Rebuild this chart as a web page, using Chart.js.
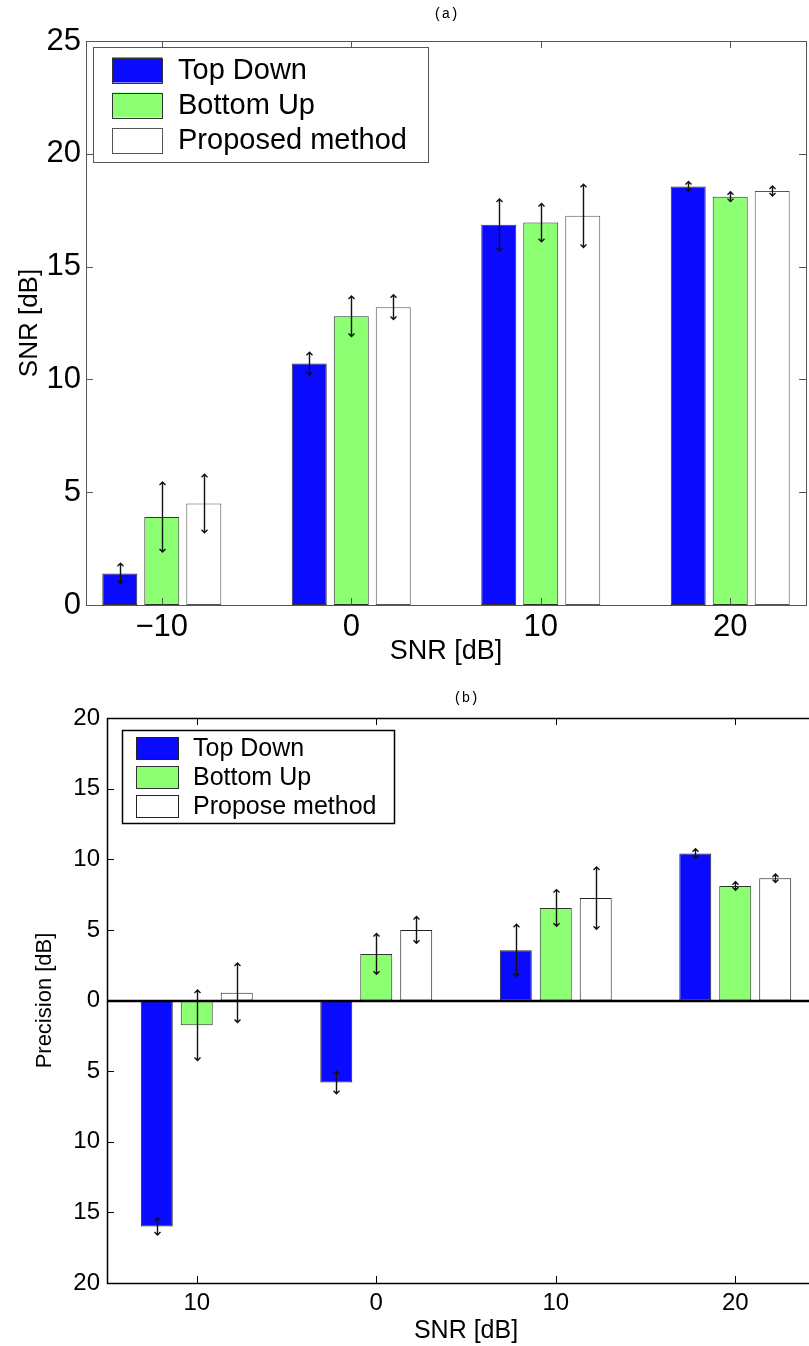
<!DOCTYPE html>
<html lang="en">
<head>
  <meta charset="UTF-8" />
  <title>SNR and Precision vs SNR</title>
  <script src="https://cdn.jsdelivr.net/npm/chart.js"></script>
  <style>
    html, body {
      margin: 0;
      padding: 0;
      background: #fff;
      overflow: hidden;
    }
    body {
      width: 809px;
      height: 1346px;
      position: relative;
    }
    #chartA { position: absolute; left: 0; top: 0; }
    #chartB { position: absolute; left: 0; top: 670px; }
  </style>
</head>
<body>
  <canvas id="chartA" width="809" height="670"></canvas>
  <canvas id="chartB" width="840" height="676"></canvas>

  <script>
    // categories (input SNR, dB)
    const snrLevels = [-10, 0, 10, 20];
    const snrTickLabelsA = ['\u221210', '0', '10', '20'];
    const snrTickLabelsB = ['10', '0', '10', '20'];

    // (a) output SNR [dB]
    const snrTopDown = [1.4, 10.7, 16.85, 18.55];
    const snrTopDownErr = [0.45, 0.5, 1.15, 0.22];
    const snrBottomUp = [3.9, 12.8, 16.95, 18.1];
    const snrBottomUpErr = [1.55, 0.9, 0.85, 0.22];
    const snrProposed = [4.5, 13.2, 17.25, 18.35];
    const snrProposedErr = [1.3, 0.55, 1.4, 0.22];
    const snrAxisTicks = [0, 5, 10, 15, 20, 25];

    // (b) precision [dB]
    const precTopDown = [-16.0, -5.8, 3.55, 10.4];
    const precTopDownErr = [0.6, 0.8, 1.85, 0.35];
    const precBottomUp = [-1.75, 3.3, 6.55, 8.1];
    const precBottomUpErr = [2.5, 1.45, 1.3, 0.3];
    const precProposed = [0.55, 5.0, 7.25, 8.65];
    const precProposedErr = [2.1, 0.95, 2.2, 0.3];
    const precAxisTicks = [-20, -15, -10, -5, 0, 5, 10, 15, 20];
    const precTickLabels = ['20', '15', '10', '5', '0', '5', '10', '15', '20'];

    const namesA = ['Top Down', 'Bottom Up', 'Proposed method'];
    const namesB = ['Top Down', 'Bottom Up', 'Propose method'];
    const fills = ['#0a0aff', '#8dff72', '#ffffff'];

    const sans = "'Liberation Sans', Arial, Helvetica, sans-serif";
    const mono = "'Liberation Mono', 'DejaVu Sans Mono', monospace";

    Chart.defaults.color = '#000';
    Chart.defaults.font.family = sans;

    function points(values) {
      return snrLevels.map((x, i) => ({ x: x, y: values[i] }));
    }

    function makeDataset(label, values, errs, idx, edge) {
      return {
        label: label,
        data: points(values),
        errors: errs,
        backgroundColor: fills[idx],
        borderColor: edge,
        borderWidth: 1,
        borderSkipped: false
      };
    }

    // error bars with arrow heads, inward ticks, frame and boxed legend
    function makeDecor(cfg) {
      return {
        id: 'decor',
        afterDatasetsDraw(chart) {
          const ctx = chart.ctx;
          const ca = chart.chartArea;
          const xs = chart.scales.x;
          const ys = chart.scales.y;
          ctx.save();

          // error bars
          ctx.strokeStyle = '#111';
          ctx.lineWidth = 1.4;
          chart.data.datasets.forEach((ds, di) => {
            const meta = chart.getDatasetMeta(di);
            meta.data.forEach((bar, j) => {
              const v = ds.data[j].y;
              const e = ds.errors[j];
              const x = Math.round(bar.x) + 0.5;
              const y1 = ys.getPixelForValue(v + e);
              const y2 = ys.getPixelForValue(v - e);
              const h = 3;
              ctx.beginPath();
              ctx.moveTo(x, y1);
              ctx.lineTo(x, y2);
              ctx.moveTo(x - h, y1 + h);
              ctx.lineTo(x, y1);
              ctx.lineTo(x + h, y1 + h);
              ctx.moveTo(x - h, y2 - h);
              ctx.lineTo(x, y2);
              ctx.lineTo(x + h, y2 - h);
              ctx.stroke();
            });
          });

          // zero line
          if (cfg.zeroLine) {
            const y0 = Math.round(ys.getPixelForValue(0));
            ctx.strokeStyle = '#000';
            ctx.lineWidth = 2.5;
            ctx.beginPath();
            ctx.moveTo(ca.left, y0);
            ctx.lineTo(ca.right, y0);
            ctx.stroke();
          }

          // frame + inward ticks
          ctx.strokeStyle = cfg.frameColor;
          ctx.lineWidth = cfg.frameWidth;
          ctx.strokeRect(ca.left + 0.5, ca.top + 0.5, ca.right - ca.left, ca.bottom - ca.top);
          const t = 7;
          ctx.lineWidth = 1;
          ctx.beginPath();
          xs.ticks.forEach(tk => {
            const px = Math.round(xs.getPixelForValue(tk.value)) + 0.5;
            ctx.moveTo(px, ca.bottom);
            ctx.lineTo(px, ca.bottom - t);
            ctx.moveTo(px, ca.top);
            ctx.lineTo(px, ca.top + t);
          });
          ys.ticks.forEach(tk => {
            const py = Math.round(ys.getPixelForValue(tk.value)) + 0.5;
            ctx.moveTo(ca.left, py);
            ctx.lineTo(ca.left + t, py);
            ctx.moveTo(ca.right, py);
            ctx.lineTo(ca.right - t, py);
          });
          ctx.stroke();

          // legend box
          const L = cfg.legend;
          const bx = ca.left + L.dx;
          const by = ca.top + L.dy;
          ctx.fillStyle = '#fff';
          ctx.fillRect(bx, by, L.w, L.h);
          ctx.strokeStyle = L.border;
          ctx.lineWidth = L.borderWidth;
          ctx.strokeRect(bx + 0.5, by + 0.5, L.w, L.h);
          ctx.font = L.fontSize + 'px ' + sans;
          ctx.textBaseline = 'middle';
          ctx.textAlign = 'left';
          chart.data.datasets.forEach((ds, i) => {
            const cy = by + L.first + i * L.step;
            ctx.fillStyle = ds.backgroundColor;
            ctx.fillRect(bx + L.sx, cy - L.sh / 2, L.sw, L.sh);
            ctx.strokeStyle = ds.borderColor;
            ctx.lineWidth = 1;
            ctx.strokeRect(bx + L.sx + 0.5, Math.round(cy - L.sh / 2) + 0.5, L.sw, L.sh);
            ctx.fillStyle = '#000';
            ctx.fillText(ds.label, bx + L.tx, cy + 1);
          });

          ctx.restore();
        }
      };
    }

    // ---------- (a) ----------
    new Chart(document.getElementById('chartA'), {
      type: 'bar',
      data: {
        datasets: [
          makeDataset(namesA[0], snrTopDown, snrTopDownErr, 0, '#333'),
          makeDataset(namesA[1], snrBottomUp, snrBottomUpErr, 1, '#333'),
          makeDataset(namesA[2], snrProposed, snrProposedErr, 2, '#555')
        ]
      },
      options: {
        responsive: false,
        animation: false,
        layout: { padding: { left: 0, right: 3, top: 0, bottom: 0 } },
        datasets: { bar: { categoryPercentage: 0.665, barPercentage: 0.833 } },
        scales: {
          x: {
            type: 'linear',
            offset: false,
            min: -14,
            max: 24,
            grid: { display: false, drawTicks: false, offset: false },
            border: { display: false },
            afterBuildTicks: s => { s.ticks = snrLevels.map(v => ({ value: v })); },
            afterFit: s => { s.height = 65; },
            ticks: {
              padding: 4,
              font: { size: 31 },
              callback: (v, i) => snrTickLabelsA[i]
            },
            title: {
              display: true,
              text: 'SNR [dB]',
              font: { size: 27 },
              padding: { top: 0, bottom: 2 }
            }
          },
          y: {
            min: 0,
            max: 25,
            grid: { display: false, drawTicks: false },
            border: { display: false },
            afterBuildTicks: s => { s.ticks = snrAxisTicks.map(v => ({ value: v })); },
            afterFit: s => { s.width = 86; },
            ticks: {
              padding: 5,
              font: { size: 31 },
              callback: v => String(v)
            },
            title: {
              display: true,
              text: 'SNR [dB]',
              font: { size: 26 },
              padding: { top: 14, bottom: 0 }
            }
          }
        },
        plugins: {
          legend: { display: false },
          tooltip: { enabled: false },
          title: {
            display: true,
            text: '(a)',
            fullSize: false,
            font: { family: mono, size: 14, weight: 'normal' },
            padding: { top: 6, bottom: 18.2 }
          }
        }
      },
      plugins: [makeDecor({
        zeroLine: false,
        frameColor: '#555',
        frameWidth: 1,
        legend: {
          dx: 7, dy: 6, w: 335, h: 115,
          border: '#555', borderWidth: 1,
          first: 23, step: 35,
          sx: 19, sw: 50, sh: 25,
          tx: 85, fontSize: 29
        }
      })]
    });

    // ---------- (b) ----------
    new Chart(document.getElementById('chartB'), {
      type: 'bar',
      data: {
        datasets: [
          makeDataset(namesB[0], precTopDown, precTopDownErr, 0, '#222'),
          makeDataset(namesB[1], precBottomUp, precBottomUpErr, 1, '#333'),
          makeDataset(namesB[2], precProposed, precProposedErr, 2, '#222')
        ]
      },
      options: {
        responsive: false,
        animation: false,
        layout: { padding: { left: 0, right: 15, top: 0, bottom: 0 } },
        datasets: { bar: { categoryPercentage: 0.668, barPercentage: 0.8 } },
        scales: {
          x: {
            type: 'linear',
            offset: false,
            min: -15,
            max: 25,
            grid: { display: false, drawTicks: false, offset: false },
            border: { display: false },
            afterBuildTicks: s => { s.ticks = snrLevels.map(v => ({ value: v })); },
            afterFit: s => { s.height = 63; },
            ticks: {
              padding: 6,
              font: { size: 24 },
              callback: (v, i) => snrTickLabelsB[i]
            },
            title: {
              display: true,
              text: 'SNR [dB]',
              font: { size: 25 },
              padding: { top: 0, bottom: 0 }
            }
          },
          y: {
            min: -20,
            max: 20,
            grid: { display: false, drawTicks: false },
            border: { display: false },
            afterBuildTicks: s => { s.ticks = precAxisTicks.map(v => ({ value: v })); },
            afterFit: s => { s.width = 107; },
            ticks: {
              padding: 7,
              font: { size: 24 },
              callback: v => precTickLabels[precAxisTicks.indexOf(v)]
            },
            title: {
              display: true,
              text: 'Precision [dB]',
              font: { size: 22 },
              padding: { top: 32, bottom: 0 }
            }
          }
        },
        plugins: {
          legend: { display: false },
          tooltip: { enabled: false },
          title: {
            display: true,
            text: '(b)',
            fullSize: false,
            font: { family: mono, size: 14, weight: 'normal' },
            padding: { top: 20, bottom: 11.2 }
          }
        }
      },
      plugins: [makeDecor({
        zeroLine: true,
        frameColor: '#000',
        frameWidth: 1.5,
        legend: {
          dx: 15, dy: 12, w: 272, h: 93,
          border: '#000', borderWidth: 1.5,
          first: 18, step: 29,
          sx: 14, sw: 42, sh: 22,
          tx: 71, fontSize: 25
        }
      })]
    });
  </script>
</body>
</html>
